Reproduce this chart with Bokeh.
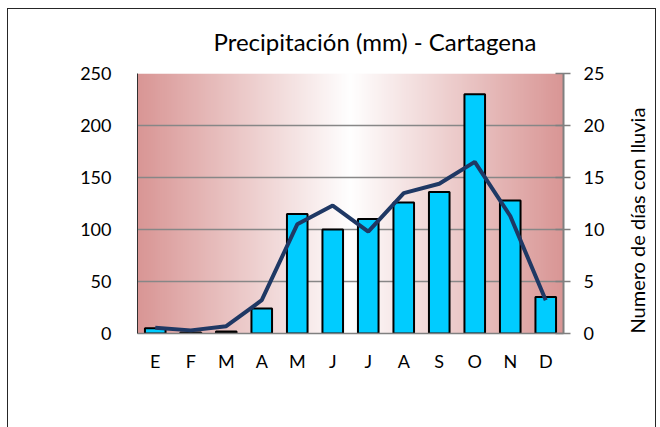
import numpy as np
from bokeh.plotting import figure
from bokeh.models import (Range1d, LinearAxis, FixedTicker, Legend, LegendItem)
from bokeh.embed import file_html
from bokeh.resources import INLINE

# ---- data ----
months = ["E", "F", "M", "A", "M", "J", "J", "A", "S", "O", "N", "D"]
precip_mm = [5, 1, 2, 24, 115, 100, 110, 126, 136, 230, 128, 35]
rain_days = [0.55, 0.3, 0.7, 3.2, 10.5, 12.3, 9.8, 13.5, 14.4, 16.5, 11.3, 3.2]
left_ticks = [0, 50, 100, 150, 200, 250]
right_ticks = [0, 5, 10, 15, 20, 25]
right_title = "Numero de días con lluvia"

FONT = "Lato"
xs = list(range(1, len(months) + 1))
BORDER = "#262626"

p = figure(frame_width=426, frame_height=260, output_backend="svg", toolbar_location=None,
           x_range=Range1d(0.5, len(months) + 0.5), y_range=Range1d(0, 250),
           min_border_left=137, min_border_right=97, min_border_top=73,
           min_border_bottom=40)
p.border_fill_alpha = 0
p.styles = {
    "background-color": "white",
    "background-image": ", ".join([f"linear-gradient({BORDER}, {BORDER})"] * 3),
    "background-size": "1px 100%, 649px 1px, 1px 100%",
    "background-position": "7px 8px, 7px 8px, 655px 8px",
    "background-repeat": "no-repeat",
}
p.extra_y_ranges = {"days": Range1d(0, 25)}

# gradient background of plot area
N = 400
t = np.linspace(0, 1, N)
f = np.abs(t - 0.5) * 2
edge = np.array([217, 150, 149])
white = np.array([255, 255, 255])
cols = (white[None, :] * (1 - f[:, None]) + edge[None, :] * f[:, None]).astype(np.uint32)
img = np.zeros((1, N), dtype=np.uint32)
view = img.view(dtype=np.uint8).reshape((1, N, 4))
view[0, :, 0] = cols[:, 0]
view[0, :, 1] = cols[:, 1]
view[0, :, 2] = cols[:, 2]
view[0, :, 3] = 255
p.image_rgba(image=[img], x=0.5, y=0, dw=len(months), dh=250, level="image")

p.outline_line_color = None

p.xgrid.grid_line_color = None
p.ygrid.grid_line_color = "#878787"
p.ygrid.grid_line_width = 1.5
p.ygrid.ticker = FixedTicker(ticks=left_ticks[1:-1])
p.ygrid.level = "underlay"

bars = p.vbar(x=xs, top=precip_mm, width=0.58, fill_color="#00CCFF",
              line_color="black", line_width=2)
line = p.line(x=xs, y=rain_days, y_range_name="days", line_color="#1F3864",
              line_width=4)

# axes
xa = p.xaxis[0]
xa.ticker = FixedTicker(ticks=xs)
xa.major_label_overrides = {x: m for x, m in zip(xs, months)}
xa.major_tick_line_color = None
xa.minor_tick_line_color = None
xa.axis_line_color = "#808080"
xa.axis_line_width = 1.5
xa.major_label_standoff = 10
xa.major_label_text_font = FONT
xa.major_label_text_font_size = "18px"
xa.major_label_text_color = "black"

ya = p.yaxis[0]
ya.ticker = FixedTicker(ticks=left_ticks)
ya.major_tick_line_color = None
ya.minor_tick_line_color = None
ya.axis_line_color = "#303030"
ya.axis_line_width = 1
ya.major_label_standoff = 20
ya.major_label_text_font = FONT
ya.major_label_text_font_size = "18px"
ya.major_label_text_color = "black"

ra = LinearAxis(y_range_name="days", ticker=FixedTicker(ticks=right_ticks))
ra.axis_line_color = "#808080"
ra.axis_line_width = 2
ra.major_tick_line_color = "#808080"
ra.major_tick_line_width = 1.5
ra.major_tick_in = 8
ra.major_tick_out = 7
ra.minor_tick_line_color = None
ra.major_label_standoff = 13
ra.major_label_text_font = FONT
ra.major_label_text_font_size = "18px"
ra.major_label_text_color = "black"
p.add_layout(ra, "right")

# right-hand title, drawn as a rotated label reading bottom-to-top
rt = LinearAxis(y_range_name="days", ticker=FixedTicker(ticks=[right_ticks[0]]))
rt.major_label_overrides = {right_ticks[0]: right_title}
rt.major_label_orientation = np.pi / 2
rt.axis_line_color = None
rt.major_tick_line_color = None
rt.minor_tick_line_color = None
rt.major_label_standoff = 23
rt.major_label_text_font = FONT
rt.major_label_text_font_size = "20px"
rt.major_label_text_color = "black"
p.add_layout(rt, "right")

# title
p.title.text = "Precipitación (mm) - Cartagena"
p.title.text_font = FONT
p.title.text_font_size = "24px"
p.title.text_font_style = "normal"
p.title.text_color = "black"
p.title.align = "left"
p.title.offset = 76
p.title.standoff = 36

legend = Legend(items=[LegendItem(label="Precipitación", renderers=[bars]),
                       LegendItem(label="Numero de días con lluvia", renderers=[line])],
                orientation="horizontal", location="top_center")
legend.border_line_color = None
legend.background_fill_alpha = 0
legend.label_text_font = FONT
legend.label_text_font_size = "20px"
legend.label_text_color = "black"
legend.glyph_width = 53
legend.glyph_height = 14
legend.label_standoff = 6
legend.spacing = 32
legend.padding = 0
legend.margin = 0
p.add_layout(legend, "below")

open("out.html", "w").write(file_html(p, INLINE))
